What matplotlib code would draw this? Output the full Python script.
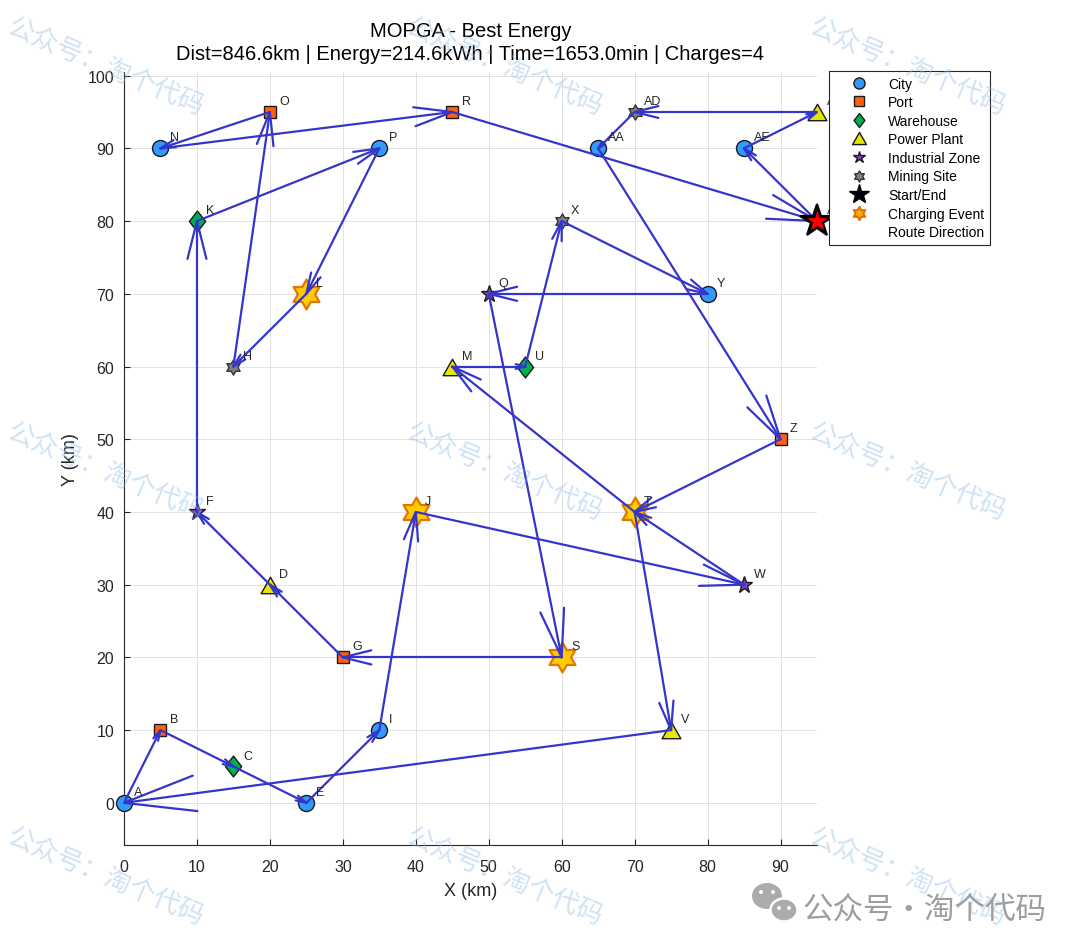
import matplotlib
matplotlib.use('Agg')
import matplotlib.pyplot as plt
from matplotlib.path import Path
from matplotlib.lines import Line2D
from matplotlib.patches import Ellipse
import numpy as np

# ---------------- data ----------------
node_names = ['A', 'B', 'C', 'D', 'E', 'F', 'G', 'H', 'I', 'J', 'K', 'L', 'M', 'N', 'O', 'P',
              'Q', 'R', 'S', 'T', 'U', 'V', 'W', 'X', 'Y', 'Z', 'AA', 'AB', 'AC', 'AD', 'AE']
node_x = [0, 5, 15, 20, 25, 10, 30, 15, 35, 40, 10, 25, 45, 5, 20, 35,
          50, 45, 60, 70, 55, 75, 85, 60, 80, 90, 65, 95, 95, 70, 85]
node_y = [0, 10, 5, 30, 0, 40, 20, 60, 10, 40, 80, 70, 60, 90, 95, 90,
          70, 95, 20, 40, 60, 10, 30, 80, 70, 50, 90, 95, 80, 95, 90]
node_types = ['City', 'Port', 'Warehouse', 'Power Plant', 'City', 'Industrial Zone', 'Port',
              'Mining Site', 'City', 'Charging', 'Warehouse', 'Charging', 'Power Plant', 'City',
              'Port', 'City', 'Industrial Zone', 'Port', 'Charging', 'Charging', 'Warehouse',
              'Power Plant', 'Industrial Zone', 'Mining Site', 'City', 'Port', 'City',
              'Power Plant', 'Start/End', 'Mining Site', 'City']
charging_nodes = ['J', 'L', 'S', 'T']
start_node = 'AC'
route = ['AC', 'AE', 'AB', 'AD', 'AA', 'Z', 'T', 'V', 'A', 'B', 'C', 'E', 'I', 'J', 'W', 'T',
         'M', 'U', 'X', 'Y', 'Q', 'S', 'G', 'D', 'F', 'K', 'P', 'L', 'H', 'O', 'N', 'R', 'AC']
title_lines = ['MOPGA - Best Energy',
               'Dist=846.6km | Energy=214.6kWh | Time=1653.0min | Charges=4']
x_ticks = list(range(0, 91, 10))
y_ticks = list(range(0, 101, 10))
legend_labels = ['City', 'Port', 'Warehouse', 'Power Plant', 'Industrial Zone', 'Mining Site',
                 'Start/End', 'Charging Event', 'Route Direction']
watermark_text = '公众号：淘个代码'
logo_text = '公众号·淘个代码'

# ---------------- style ----------------
plt.rcParams['font.family'] = ['Liberation Sans', 'DejaVu Sans']
ROUTE_C = '#3535CC'
TXT = '#262626'

def hexagram_path():
    verts = []
    for k in range(12):
        a = np.deg2rad(90 + 30 * k)
        r = 1.0 if k % 2 == 0 else 1 / np.sqrt(3)
        verts.append((r * np.cos(a), r * np.sin(a)))
    verts.append(verts[0])
    codes = [Path.MOVETO] + [Path.LINETO] * 11 + [Path.CLOSEPOLY]
    return Path(verts, codes)

HEX = hexagram_path()
DIAM = Path([(0, 1), (0.78, 0), (0, -1), (-0.78, 0), (0, 1)],
            [Path.MOVETO, Path.LINETO, Path.LINETO, Path.LINETO, Path.CLOSEPOLY])
TRI = Path([(-1, -0.875), (1, -0.875), (0, 0.875), (-1, -0.875)],
           [Path.MOVETO, Path.LINETO, Path.LINETO, Path.CLOSEPOLY])

styles = {
    'City': dict(marker='o', ms=11.5, mfc='#3399FF', mec='#1a1a1a', mew=1.0),
    'Port': dict(marker='s', ms=8.8, mfc='#FF6010', mec='#1a1a1a', mew=1.0),
    'Warehouse': dict(marker=DIAM, ms=15, mfc='#00B050', mec='#1a1a1a', mew=1.0),
    'Power Plant': dict(marker=TRI, ms=13.5, mfc='#E6E600', mec='#1a1a1a', mew=1.0),
    'Industrial Zone': dict(marker='*', ms=12.5, mfc='#8040C0', mec='#1a1a1a', mew=1.0),
    'Mining Site': dict(marker=HEX, ms=11, mfc='#808080', mec='#333333', mew=1.0),
}
charge_style = dict(marker=HEX, ms=21.5, mfc='#FFCC00', mec='#E07800', mew=1.6)

W, H = 1080, 953
fig = plt.figure(figsize=(W / 100, H / 100), dpi=100)
ax = fig.add_axes([124 / W, 107 / H, 693 / W, 773 / H])

xy = {n: (x, y) for n, x, y in zip(node_names, node_x, node_y)}

# base node markers
for t, st in styles.items():
    xs = [x for x, tt in zip(node_x, node_types) if tt == t]
    ys = [y for y, tt in zip(node_y, node_types) if tt == t]
    ax.plot(xs, ys, linestyle='none', clip_on=False, zorder=3, **st)

# charging events
cx = [xy[n][0] for n in charging_nodes]
cy = [xy[n][1] for n in charging_nodes]
ax.plot(cx, cy, linestyle='none', clip_on=False, zorder=3.5, **charge_style)

# route lines with quiver-like heads
alpha, beta = 0.13, 0.25
for a, b in zip(route[:-1], route[1:]):
    x0, y0 = xy[a]
    x1, y1 = xy[b]
    u, v = x1 - x0, y1 - y0
    ax.plot([x0, x1], [y0, y1], color=ROUTE_C, lw=1.6, zorder=4, solid_capstyle='round')
    h1 = (x1 - alpha * (u + beta * v), y1 - alpha * (v - beta * u))
    h2 = (x1 - alpha * (u - beta * v), y1 - alpha * (v + beta * u))
    ax.plot([h1[0], x1, h2[0]], [h1[1], y1, h2[1]], color=ROUTE_C, lw=1.6, zorder=4,
            solid_capstyle='round', clip_on=False)

# start / end
sx, sy = xy[start_node]
ax.plot([sx], [sy], marker='*', ms=25, mfc='black', mec='black', mew=1.5,
        linestyle='none', clip_on=False, zorder=6)
ax.plot([sx], [sy], marker='*', ms=14, mfc='#FF0000', mec='#FF0000', mew=0.5,
        linestyle='none', clip_on=False, zorder=7)

# labels
for n, x, y in zip(node_names, node_x, node_y):
    ax.text(x + 1.3, y + 1.5, n, fontsize=9, color=TXT, ha='left', va='center',
            clip_on=False, zorder=8)

ax.set_xlim(0, 95)
ax.set_ylim(-5.8, 100.5)
ax.set_xticks(x_ticks)
ax.set_yticks(y_ticks)
ax.tick_params(direction='in', length=4, width=0.8, colors=TXT, labelsize=11.5)
ax.tick_params(axis='x', pad=10)
ax.tick_params(axis='y', pad=7)
ax.grid(True, color='#E2E2E2', lw=0.7)
ax.set_axisbelow(True)
for s in ['top', 'right']:
    ax.spines[s].set_visible(False)
for s in ['left', 'bottom']:
    ax.spines[s].set_color(TXT)
    ax.spines[s].set_linewidth(0.8)
ax.set_xlabel('X (km)', fontsize=13, color=TXT, labelpad=6)
ax.set_ylabel('Y (km)', fontsize=13, color=TXT, labelpad=6)
ax.set_title('\n'.join(title_lines), fontsize=14.5, color='black', pad=9, linespacing=1.3)

# legend
handles = [
    Line2D([], [], linestyle='none', marker='o', ms=8, mfc='#3399FF', mec='#1a1a1a', mew=1.0),
    Line2D([], [], linestyle='none', marker='s', ms=6.5, mfc='#FF6010', mec='#1a1a1a', mew=1.0),
    Line2D([], [], linestyle='none', marker=DIAM, ms=10, mfc='#00B050', mec='#1a1a1a', mew=1.0),
    Line2D([], [], linestyle='none', marker=TRI, ms=10, mfc='#E6E600', mec='#1a1a1a', mew=1.0),
    Line2D([], [], linestyle='none', marker='*', ms=9, mfc='#8040C0', mec='#1a1a1a', mew=1.0),
    Line2D([], [], linestyle='none', marker=HEX, ms=8, mfc='#808080', mec='#333333', mew=1.0),
    Line2D([], [], linestyle='none', marker='*', ms=15, mfc='black', mec='black', mew=1.0),
    Line2D([], [], linestyle='none', marker=HEX, ms=9.5, mfc='#F5B000', mec='#E07000', mew=1.5),
    Line2D([], [], linestyle='none'),
]
leg = fig.legend(handles, legend_labels, loc='upper left',
                 bbox_to_anchor=(829 / W, 1 - 72 / H), bbox_transform=fig.transFigure,
                 fontsize=10, frameon=True, fancybox=False, framealpha=1,
                 edgecolor=TXT, borderaxespad=0, borderpad=0.4, handlelength=3.5,
                 handletextpad=0.35, labelspacing=0.33)
leg.get_frame().set_linewidth(0.8)

# watermarks
for cxp in [106, 505, 908]:
    for cyp in [67, 472, 877]:
        fig.text(cxp / W, 1 - cyp / H, watermark_text, rotation=-23, rotation_mode='anchor',
                 ha='center', va='center', fontsize=19,
                 family=['Noto Sans CJK SC', 'DejaVu Sans'], color='#8FBBE5', alpha=0.42,
                 zorder=100)

# logo
def fig_ell(xc, yc, w, h, **kw):
    e = Ellipse((xc / W, 1 - yc / H), w / W, h / H, transform=fig.transFigure, **kw)
    fig.add_artist(e)

fig_ell(767, 897, 30, 26, facecolor='#ABABAB', edgecolor='none', zorder=101)
fig_ell(784, 911, 27, 23, facecolor='#ABABAB', edgecolor='white', lw=1.8, zorder=102)
for ex, ey, z in [(761, 893, 103), (773, 893, 103), (779, 909, 103), (789, 909, 103)]:
    fig_ell(ex, ey, 4, 4, facecolor='white', edgecolor='none', zorder=z)
fig.text(802 / W, 1 - 910 / H, logo_text, ha='left', va='center', fontsize=22,
         family=['Noto Sans CJK SC', 'DejaVu Sans'], color='#9E9E9E', zorder=101)

fig.savefig('out.png', dpi=100, facecolor='white')
